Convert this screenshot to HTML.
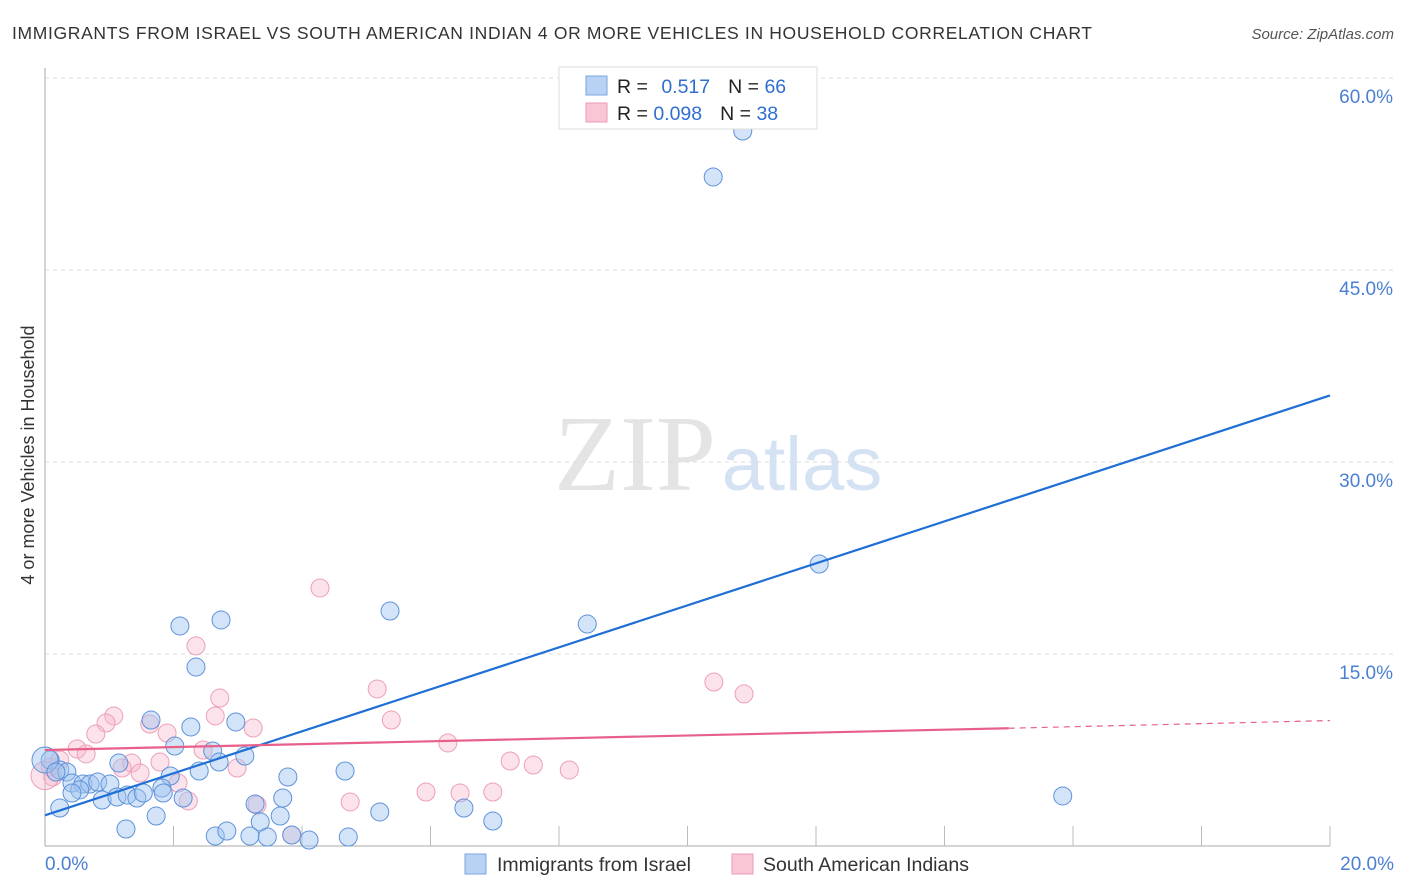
<!DOCTYPE html>
<html><head><meta charset="utf-8"><style>
body{margin:0;background:#fff;font-family:"Liberation Sans",sans-serif}
svg{display:block}
</style></head><body>
<svg width="1406" height="892">
<text x="12" y="39" font-size="17.5" fill="#333" textLength="1080" lengthAdjust="spacing">IMMIGRANTS FROM ISRAEL VS SOUTH AMERICAN INDIAN 4 OR MORE VEHICLES IN HOUSEHOLD CORRELATION CHART</text>
<text x="1394" y="39" font-size="15" fill="#555" font-style="italic" text-anchor="end">Source: ZipAtlas.com</text>
<text transform="translate(34,455) rotate(-90)" font-size="18" fill="#333" text-anchor="middle">4 or more Vehicles in Household</text>
<g><text x="635" y="490" font-size="108" fill="#e4e4e4" font-family="Liberation Serif" text-anchor="middle">ZIP</text><text x="802" y="490" font-size="76" fill="#d4e2f4" text-anchor="middle">atlas</text></g>
<g id="grid"></g><g id="axes"></g><g id="pts"></g><g id="lines"></g>
<g>
<rect x="559" y="67" width="258" height="62" fill="#fff" stroke="#ddd"/>
<rect x="586" y="76" width="21" height="19" fill="#b8d2f4" stroke="#7aa6e0"/>
<rect x="586" y="103" width="21" height="19" fill="#f9c6d6" stroke="#ee9ab4"/>
<text x="617" y="93" font-size="19.5" fill="#222">R = <tspan fill="#2f6fd0" dx="8">0.517</tspan><tspan fill="#222" dx="18">N = </tspan><tspan fill="#2f6fd0">66</tspan></text>
<text x="617" y="120" font-size="19.5" fill="#222">R = <tspan fill="#2f6fd0">0.098</tspan><tspan fill="#222" dx="18">N = </tspan><tspan fill="#2f6fd0">38</tspan></text>
</g>
<g>
<rect x="465" y="854" width="21" height="20" fill="#b8d2f4" stroke="#7aa6e0"/>
<text x="497" y="871" font-size="19.5" fill="#333">Immigrants from Israel</text>
<rect x="732" y="854" width="21" height="20" fill="#f9c6d6" stroke="#ee9ab4"/>
<text x="763" y="871" font-size="19.5" fill="#333">South American Indians</text>
</g>
</svg>
<script>
const yTicks=[15,30,45,60];
const yTickLabels=["15.0%","30.0%","45.0%","60.0%"];
const xTickLabels=["0.0%","20.0%"];
const blueX=[10.86,10.40,12.05,8.44,5.37,15.84,2.74,2.10,2.35,1.65,2.97,2.27,2.02,2.61,3.11,1.15,2.71,2.40,1.95,3.78,4.67,0.08,0.23,0.34,0.42,0.59,0.70,0.82,1.01,0.54,0.42,0.89,1.12,1.28,1.43,1.53,1.82,1.84,2.15,0.23,1.73,1.26,3.27,3.35,3.66,3.70,2.65,2.83,3.19,3.46,4.11,4.72,5.21,3.84,6.52,6.97,0.0,0.17];
const blueY=[55.86,52.27,22.03,17.34,18.36,3.91,17.66,17.19,13.98,9.84,9.69,9.30,7.81,7.42,7.03,6.48,6.56,5.86,5.47,5.39,5.86,6.72,5.94,5.78,4.92,4.84,4.84,5.00,4.84,4.38,4.14,3.59,3.83,3.98,3.75,4.14,4.53,4.14,3.75,2.97,2.34,1.33,3.28,1.88,2.34,3.75,0.78,1.17,0.78,0.70,0.47,0.70,2.66,0.86,2.97,1.95,6.72,5.78];
const pinkX=[4.28,2.35,2.72,5.17,2.65,5.39,1.07,0.95,0.79,1.63,1.90,3.24,0.50,0.64,2.46,1.35,1.79,1.20,1.48,2.99,2.07,2.23,3.30,3.84,4.75,5.93,0.08,0.12,6.27,10.41,10.88,7.24,7.60,8.16,6.46,6.97,0.0,0.23];
const pinkY=[20.16,15.63,11.56,12.27,10.16,9.84,10.16,9.61,8.75,9.53,8.83,9.22,7.58,7.19,7.50,6.48,6.56,6.09,5.70,6.09,4.92,3.52,3.20,0.86,3.44,4.22,6.17,5.39,8.05,12.81,11.88,6.64,6.33,5.94,4.14,4.22,5.5,6.72];
const blueTrend=[[0,2.4],[20,35.2]];
const pinkTrend=[[0,7.5],[15,9.2],[20,9.8]];
const NS="http://www.w3.org/2000/svg";
const X=v=>45+v*64.25, Y=v=>846-v*12.8;
function mk(t,a,p){const e=document.createElementNS(NS,t);for(const k in a)e.setAttribute(k,a[k]);document.getElementById(p).appendChild(e);return e;}
yTicks.forEach((t,i)=>{
 const g=mk('line',{x1:45,x2:1394,y1:Y(t),y2:Y(t),stroke:'#ddd','stroke-dasharray':'4,4'},'grid');
 
 
 const l=mk('text',{x:1393,y:Y(t)+25,'font-size':19,fill:'#4a7fd4','text-anchor':'end'},'axes');
 l.textContent=yTickLabels[i];
 
 
});
const ax=mk('line',{x1:45,x2:1330,y1:846,y2:846,stroke:'#aaa'},'axes');


const ay=mk('line',{x1:45,x2:45,y1:68,y2:846,stroke:'#aaa'},'axes');


for(let i=1;i<=10;i++){const t=mk('line',{x1:X(i*2),x2:X(i*2),y1:826,y2:846,stroke:'#bbb'},'axes');
 
 }
[[0,'start',45],[20,'end',1394]].forEach((d,i)=>{const l=mk('text',{x:d[2],y:870,'font-size':19,fill:'#4a7fd4','text-anchor':d[1]},'axes');l.textContent=xTickLabels[i];
 
 });
pinkX.forEach((x,i)=>{const c=mk('circle',{cx:X(x),cy:Y(pinkY[i]),r:i==36?14:9,fill:'rgba(248,182,202,0.4)',stroke:'#eca0b8','stroke-width':1},'pts');
 
 });
blueX.forEach((x,i)=>{const c=mk('circle',{cx:X(x),cy:Y(blueY[i]),r:i==56?13:9,fill:'rgba(160,196,240,0.45)',stroke:'#5e92da','stroke-width':1},'pts');
 
 });
const bl=mk('line',{x1:X(blueTrend[0][0]),y1:Y(blueTrend[0][1]),x2:X(blueTrend[1][0]),y2:Y(blueTrend[1][1]),stroke:'#1f6fd6','stroke-width':2.2},'lines');


const pl=mk('line',{x1:X(pinkTrend[0][0]),y1:Y(pinkTrend[0][1]),x2:X(pinkTrend[1][0]),y2:Y(pinkTrend[1][1]),stroke:'#e8608a','stroke-width':2.2},'lines');


const pd=mk('line',{x1:X(pinkTrend[1][0]),y1:Y(pinkTrend[1][1]),x2:X(pinkTrend[2][0]),y2:Y(pinkTrend[2][1]),stroke:'#e8608a','stroke-width':1.2,'stroke-dasharray':'6,5'},'lines');


</script>
</body></html>
